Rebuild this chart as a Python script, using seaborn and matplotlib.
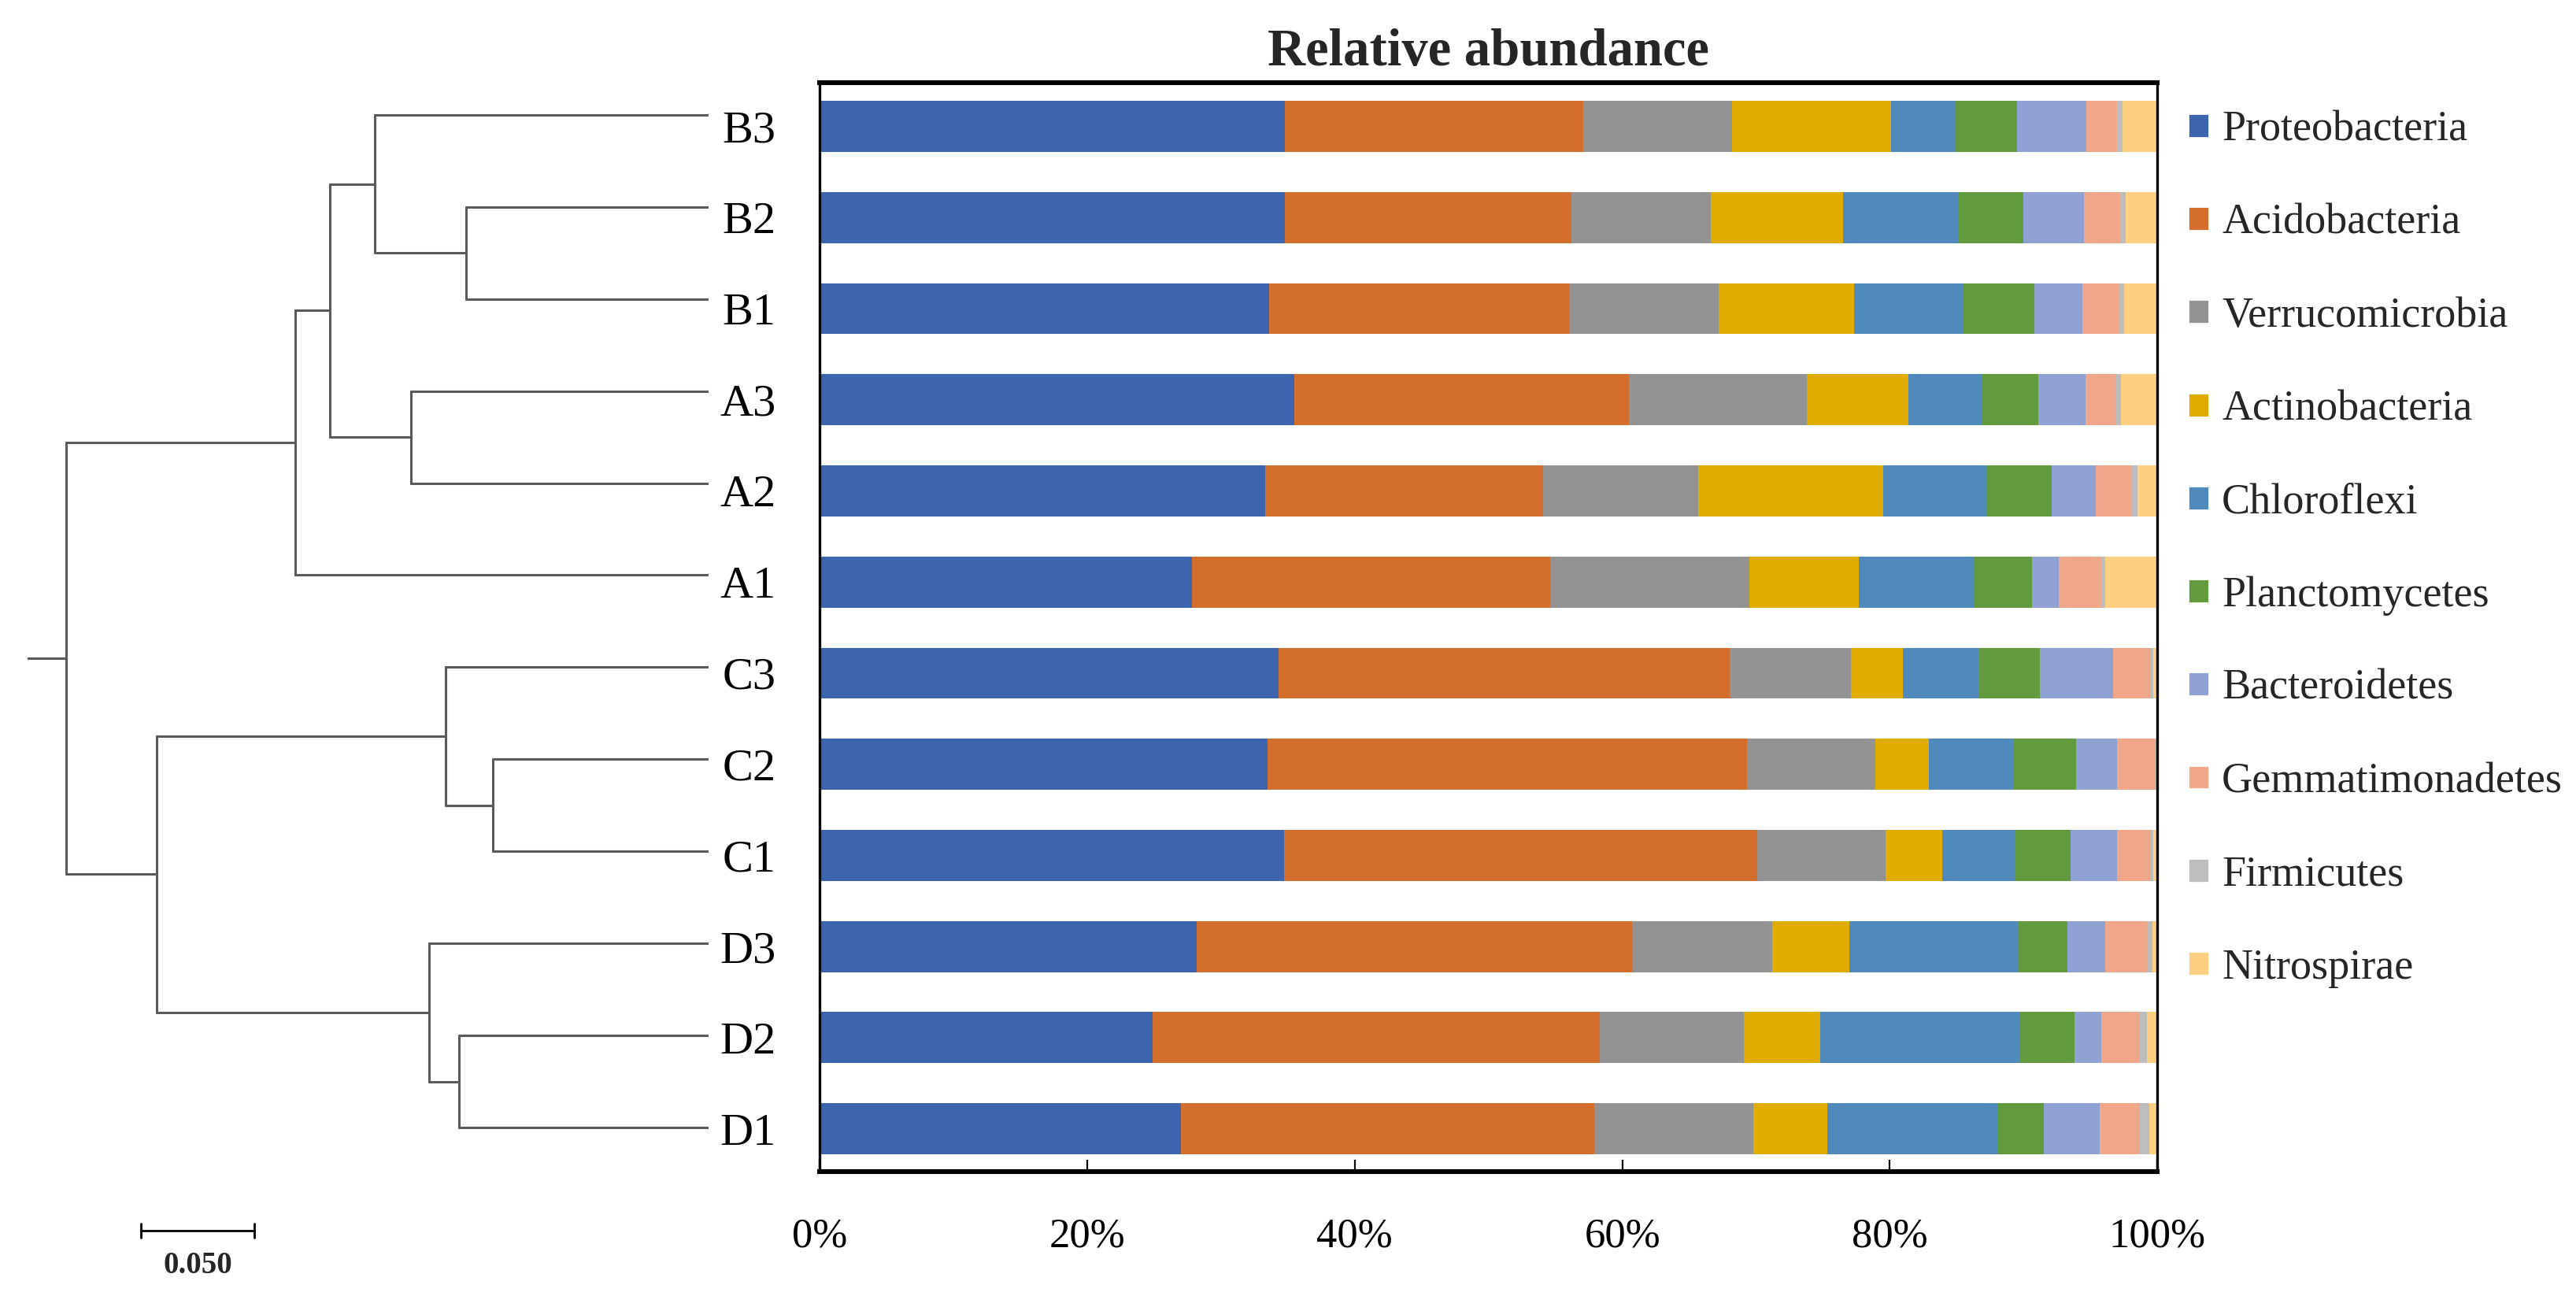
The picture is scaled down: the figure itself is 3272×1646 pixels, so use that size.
import pandas as pd
import seaborn as sns
import matplotlib
import matplotlib.pyplot as plt
from matplotlib.patches import Patch

matplotlib.use("Agg")

samples = ["B3", "B2", "B1", "A3", "A2", "A1", "C3", "C2", "C1", "D3", "D2", "D1"]
phyla = ["Proteobacteria", "Acidobacteria", "Verrucomicrobia", "Actinobacteria", "Chloroflexi",
         "Planctomycetes", "Bacteroidetes", "Gemmatimonadetes", "Firmicutes", "Nitrospirae"]

# relative abundance (%), one value per sample in the order of `samples`
proteobacteria   = [34.8, 34.8, 33.6, 35.5, 33.3, 27.8, 34.3, 33.5, 34.7, 28.2, 24.9, 27.0]
acidobacteria    = [22.3, 21.4, 22.4, 25.0, 20.8, 26.8, 33.7, 35.8, 35.4, 32.5, 33.4, 30.9]
verrucomicrobia  = [11.1, 10.4, 11.2, 13.3, 11.6, 14.9, 9.1, 9.6, 9.6, 10.5, 10.8, 11.9]
actinobacteria   = [11.9, 9.9, 10.1, 7.6, 13.8, 8.2, 3.9, 4.0, 4.2, 5.8, 5.7, 5.5]
chloroflexi      = [4.8, 8.6, 8.2, 5.5, 7.7, 8.6, 5.6, 6.4, 5.5, 12.6, 14.9, 12.8]
planctomycetes   = [4.6, 4.9, 5.3, 4.2, 4.9, 4.3, 4.6, 4.6, 4.1, 3.7, 4.1, 3.4]
bacteroidetes    = [5.2, 4.5, 3.6, 3.5, 3.3, 2.0, 5.5, 3.1, 3.5, 2.8, 2.0, 4.2]
gemmatimonadetes = [2.3, 2.7, 2.7, 2.3, 2.7, 3.2, 2.8, 2.8, 2.5, 3.2, 2.9, 3.0]
firmicutes       = [0.4, 0.4, 0.4, 0.4, 0.4, 0.3, 0.2, 0.1, 0.2, 0.3, 0.5, 0.7]
nitrospirae      = [2.6, 2.4, 2.5, 2.7, 1.5, 3.9, 0.3, 0.1, 0.3, 0.4, 0.8, 0.6]

colors = ["#3D65AD", "#D36E2C", "#939393", "#E1AC00", "#508ABD",
          "#629A3E", "#8FA2D3", "#F0A689", "#BDBDBD", "#FDCF80"]

# cluster tree: height of each join (distance from the leaves)
node_names  = ["B12", "B", "A23", "BA", "AB", "C12", "C", "D12", "D", "CD", "root"]
node_left   = ["B2", "B3", "A3", "B", "BA", "C2", "C3", "D2", "D3", "C", "AB"]
node_right  = ["B1", "B12", "A2", "A23", "A1", "C1", "C12", "D1", "D12", "D", "CD"]
node_height = [0.107, 0.147, 0.131, 0.167, 0.182, 0.095, 0.116, 0.110, 0.123, 0.243, 0.283]
root_stub = 0.017
scale_len = 0.05

sns.set_style("white")
plt.rcParams["font.family"] = ["Liberation Serif", "DejaVu Serif"]

fig = plt.figure(figsize=(16.36, 8.23), dpi=200)

# ---- stacked bars ----
ax = fig.add_axes([0.3182, 0.0960, 0.5193, 0.8402])

df = pd.DataFrame(dict(zip(phyla, [proteobacteria, acidobacteria, verrucomicrobia, actinobacteria,
                                   chloroflexi, planctomycetes, bacteroidetes, gemmatimonadetes,
                                   firmicutes, nitrospirae])), index=samples)
df = df.div(df.sum(axis=1), axis=0) * 100
cum = df.cumsum(axis=1)

for name, col in reversed(list(zip(phyla, colors))):
    sns.barplot(x=cum[name].values, y=samples, orient="h", color=col, saturation=1,
                width=0.56, linewidth=0, errorbar=None, ax=ax)

ax.set_xlim(0, 100)
ax.set_ylim(11.47, -0.48)
ax.set_xticks([0, 20, 40, 60, 80, 100])
ax.set_xticklabels([f"{v}%" for v in [0, 20, 40, 60, 80, 100]])
ax.set_xlabel("")
ax.set_ylabel("")
ax.tick_params(axis="x", direction="in", length=5.4, width=0.8, pad=21, labelsize=19,
               bottom=True, colors="black")
ax.tick_params(axis="y", length=0, pad=20, labelsize=21, labelcolor="black")
for side in ["top", "bottom"]:
    ax.spines[side].set_linewidth(2.2)
for side in ["left", "right"]:
    ax.spines[side].set_linewidth(1.2)
for sp in ax.spines.values():
    sp.set_color("black")
    sp.set_visible(True)
ax.set_title("Relative abundance", fontsize=24, fontweight="bold", pad=8)

handles = [Patch(facecolor=c, label=p) for p, c in zip(phyla, colors)]
fig.legend(handles=handles, loc="upper left", bbox_to_anchor=(0.8493, 0.9148), frameon=False,
           fontsize=19.5, handlelength=0.5, handleheight=0.5, handletextpad=0.3,
           labelspacing=1.25, borderpad=0, borderaxespad=0)

# ---- dendrogram ----
axt = fig.add_axes([0.0107, 0.0945, 0.2644, 0.8524])
line_kw = dict(color="#5A5A5A", lw=1.1)
ypos = {s: i for i, s in enumerate(samples)}
xpos = {s: 0.0 for s in samples}
for name, left, right, h in zip(node_names, node_left, node_right, node_height):
    for child in (left, right):
        axt.plot([xpos[child], h], [ypos[child], ypos[child]], **line_kw)
    axt.plot([h, h], [ypos[left], ypos[right]], **line_kw)
    ypos[name] = (ypos[left] + ypos[right]) / 2
    xpos[name] = h
axt.plot([xpos["root"], xpos["root"] + root_stub], [ypos["root"]] * 2, **line_kw)

axt.set_xlim(node_height[-1] + root_stub, 0)
axt.set_ylim(11.5, -0.5)
axt.axis("off")

# scale bar
sb_x0, sb_y = 0.25, 12.12
axt.plot([sb_x0, sb_x0 - scale_len], [sb_y, sb_y], color="black", lw=1.0, clip_on=False)
for xx in (sb_x0, sb_x0 - scale_len):
    axt.plot([xx, xx], [sb_y - 0.08, sb_y + 0.08], color="black", lw=1.0, clip_on=False)
axt.text(sb_x0 - scale_len / 2, 12.5, f"{scale_len:.3f}", ha="center", va="center",
         fontsize=14, fontweight="bold", clip_on=False)

fig.savefig("out.png", dpi=200)
